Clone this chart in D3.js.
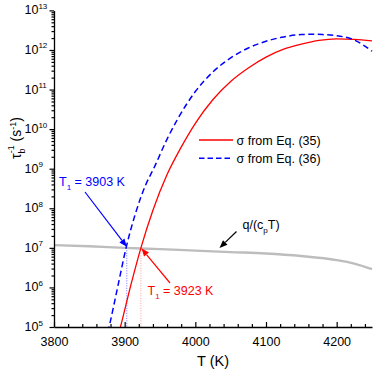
<!DOCTYPE html>
<html>
<head>
<meta charset="utf-8">
<script src="https://cdn.jsdelivr.net/npm/d3@7"></script>
<style>
body { margin: 0; background: #fff; }
svg { display: block; font-family: "Liberation Sans", Arial, sans-serif; }
</style>
</head>
<body>
<div id="chart"></div>
<script>
let CHART_WIDTH = 374;
let CHART_HEIGHT = 371;

// sigma from Eq. (35)
var eq35T = [3885, 3894, 3910, 3923, 3940, 3960, 3980, 4000, 4025, 4050, 4075, 4100, 4125, 4150, 4175, 4200, 4225, 4250];
var eq35V = [2.5e4, 1e5, 1.4e6, 1e7, 8.9e7, 7.1e8, 3.5e9, 1.4e10, 5.6e10, 1.6e11, 3.5e11, 6.6e11, 1.05e12, 1.4e12, 1.74e12, 1.9e12, 1.86e12, 1.7e12];
// sigma from Eq. (36)
var eq36T = [3870, 3878, 3890, 3902, 3915, 3930, 3941, 3960, 3975, 4000, 4025, 4050, 4075, 4100, 4125, 4150, 4165, 4180, 4200, 4225, 4250];
var eq36V = [2.5e4, 1e5, 1e6, 1e7, 7.1e7, 4e8, 1e9, 5.6e9, 1.8e10, 8.9e10, 2.8e11, 6.3e11, 1.12e12, 1.66e12, 2.14e12, 2.45e12, 2.5e12, 2.45e12, 2.3e12, 1.78e12, 9.3e11];
// q/(cp T)
var qT = [3800, 3850, 3900, 3950, 4000, 4050, 4100, 4150, 4200, 4225, 4250];
var qV = [1.17e7, 1.1e7, 1.0e7, 9.3e6, 8.5e6, 7.8e6, 7.2e6, 6.2e6, 4.9e6, 4.0e6, 2.9e6];

var xTicks = [3800, 3900, 4000, 4100, 4200];
var yExps = [5, 6, 7, 8, 9, 10, 11, 12, 13];
var T1a = 3903, T1b = 3923; // crossing temperatures
var crossV = 1e7;

var svg = d3.select("#chart").append("svg")
	.attr("width", CHART_WIDTH)
	.attr("height", CHART_HEIGHT);

var x = d3.scaleLinear().domain([3800, 4250]).range([54, 372]);
var y = d3.scaleLog().domain([1e5, 1e13]).range([327, 10.4]);

svg.append("defs").append("clipPath").attr("id", "clip")
	.append("rect").attr("x", 54).attr("y", 0).attr("width", 320).attr("height", 327);

var line = d3.line().x(d => x(d[0])).y(d => y(d[1])).curve(d3.curveMonotoneX);
var zip = (a, b) => a.map((t, i) => [t, b[i]]);

var plot = svg.append("g").attr("clip-path", "url(#clip)");

// dotted drop lines
plot.append("line")
	.attr("x1", x(T1a)).attr("x2", x(T1a)).attr("y1", y(crossV)).attr("y2", y(1e5))
	.attr("stroke", "#6f6fff").attr("stroke-width", 1).attr("stroke-dasharray", "1,1.5");
plot.append("line")
	.attr("x1", x(T1b)).attr("x2", x(T1b)).attr("y1", y(crossV)).attr("y2", y(1e5))
	.attr("stroke", "#ff9a9a").attr("stroke-width", 1).attr("stroke-dasharray", "1,1.5");

plot.append("path").datum(zip(qT, qV)).attr("d", line)
	.attr("fill", "none").attr("stroke", "#bdbdbd").attr("stroke-width", 2.4);
plot.append("path").datum(zip(eq35T, eq35V)).attr("d", line)
	.attr("fill", "none").attr("stroke", "#ff0000").attr("stroke-width", 1.3);
plot.append("path").datum(zip(eq36T, eq36V)).attr("d", line)
	.attr("fill", "none").attr("stroke", "#0000ff").attr("stroke-width", 1.5)
	.attr("stroke-dasharray", "6,3.5");

// x axis (ticks inward)
var xMinor = d3.range(3800, 4251, 20).filter(v => xTicks.indexOf(v) < 0);
svg.append("g").attr("transform", "translate(0,327)")
	.call(d3.axisBottom(x).tickValues(xMinor).tickSizeInner(-3).tickSizeOuter(0).tickFormat(""))
	.call(g => g.select(".domain").remove())
	.selectAll("line").attr("stroke-width", 1.2);
var xg = svg.append("g").attr("transform", "translate(0,327)")
	.call(d3.axisBottom(x).tickValues(xTicks).tickSizeInner(-5).tickSizeOuter(0).tickPadding(10).tickFormat(d3.format("d")));
xg.select(".domain").attr("stroke-width", 1.3);
xg.selectAll("line").attr("stroke-width", 1.2);
xg.selectAll("text").attr("font-size", "12.5px").attr("font-family", "Liberation Sans, Arial, sans-serif").attr("fill", "#000");

// y axis (ticks outward)
var yMinor = [];
yExps.slice(0, -1).forEach(e => { for (var k = 2; k <= 9; k++) yMinor.push(k * Math.pow(10, e)); });
svg.append("g").attr("transform", "translate(54,0)")
	.call(d3.axisLeft(y).tickValues(yMinor).tickSizeInner(2.5).tickSizeOuter(0).tickFormat(""))
	.call(g => g.select(".domain").remove())
	.selectAll("line").attr("stroke-width", 1.2);
var yg = svg.append("g").attr("transform", "translate(54,0)")
	.call(d3.axisLeft(y).tickValues(yExps.map(e => Math.pow(10, e))).tickSizeInner(4.5).tickSizeOuter(0).tickFormat(""));
yg.select(".domain").attr("stroke-width", 1.3);
yg.selectAll("line").attr("stroke-width", 1.2);

var ylab = svg.append("g").selectAll("text").data(yExps).join("text")
	.attr("x", 24.5).attr("y", d => y(Math.pow(10, d)) + 4)
	.attr("font-size", "12.5px");
ylab.append("tspan").text("10");
ylab.append("tspan").attr("font-size", "8px").attr("dy", -5.5).text(d => d);

// axis titles
svg.append("text").attr("x", (x(3800) + x(4250)) / 2).attr("y", 366)
	.attr("text-anchor", "middle").attr("font-size", "14.5px").text("T (K)");
var yt = svg.append("text").attr("transform", "translate(21,138) rotate(-90)")
	.attr("text-anchor", "middle").attr("font-size", "14px");
yt.append("tspan").text("τ");
yt.append("tspan").attr("font-size", "9px").attr("dy", 4).text("b");
yt.append("tspan").attr("font-size", "9px").attr("dx", -5).attr("dy", -11).text("-1");
yt.append("tspan").attr("dy", 7).text(" (s");
yt.append("tspan").attr("font-size", "9px").attr("dy", -5).text("-1");
yt.append("tspan").attr("dy", 5).text(")");

// legend
var legend = [
	{ label: "σ from Eq. (35)", color: "#ff0000", dash: null, w: 1.3 },
	{ label: "σ from Eq. (36)", color: "#0000ff", dash: "5.5,3", w: 1.5 }
];
var lg = svg.append("g").selectAll("g").data(legend).join("g")
	.attr("transform", (d, i) => "translate(199," + (140 + i * 18.3) + ")");
lg.append("line").attr("x1", 0).attr("x2", 34)
	.attr("stroke", d => d.color).attr("stroke-width", d => d.w)
	.attr("stroke-dasharray", d => d.dash);
lg.append("text").attr("x", 37.5).attr("y", 5).attr("font-size", "12.5px").text(d => d.label);

// annotations with arrows
function arrow(x1, y1, x2, y2, color) {
	var a = Math.atan2(y2 - y1, x2 - x1), L = 8, W = 3.2;
	var bx = x2 - L * Math.cos(a), by = y2 - L * Math.sin(a);
	svg.append("line").attr("x1", x1).attr("y1", y1).attr("x2", bx).attr("y2", by)
		.attr("stroke", color).attr("stroke-width", 1.2);
	svg.append("path")
		.attr("d", "M" + x2 + "," + y2 + "L" + (bx + W * Math.sin(a)) + "," + (by - W * Math.cos(a)) +
			"L" + (bx - W * Math.sin(a)) + "," + (by + W * Math.cos(a)) + "Z")
		.attr("fill", color);
}
arrow(85, 192, x(T1a), y(crossV) - 1, "#0000ff");
arrow(170, 283, x(T1b) + 0.5, y(crossV) + 0.5, "#ff0000");
arrow(236.5, 231.5, 219.5, 248, "#000");

function tLabel(px, py, color, val) {
	var t = svg.append("text").attr("x", px).attr("y", py).attr("fill", color).attr("font-size", "12.5px");
	t.append("tspan").text("T");
	t.append("tspan").attr("font-size", "8px").attr("dy", 4).text("1");
	t.append("tspan").attr("dy", -4).text(" = " + val + " K");
}
tLabel(59, 186, "#0000ff", T1a);
tLabel(147.5, 295, "#ff0000", T1b);

var qt = svg.append("text").attr("x", 242.5).attr("y", 229).attr("font-size", "12.5px");
qt.append("tspan").text("q/(c");
qt.append("tspan").attr("font-size", "8px").attr("dy", 4).text("p");
qt.append("tspan").attr("dy", -4).text("T)");
</script>
</body>
</html>
